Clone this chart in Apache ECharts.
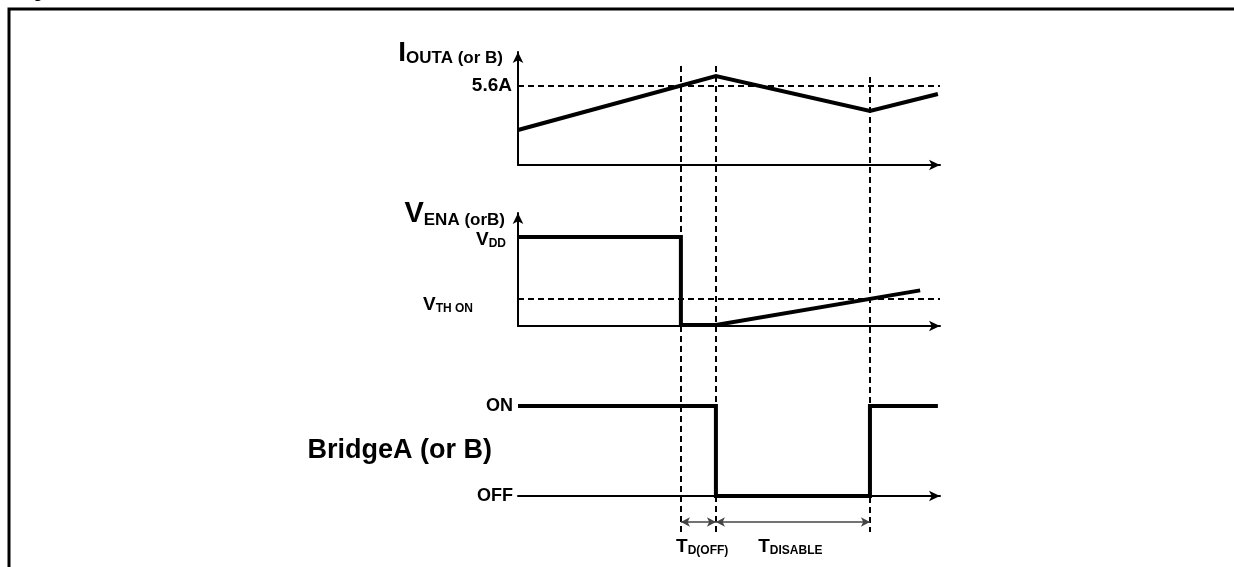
<!DOCTYPE html>
<html>
<head>
<meta charset="utf-8">
<script src="https://cdn.jsdelivr.net/npm/echarts@6/dist/echarts.min.js"></script>
<style>html,body{margin:0;padding:0;background:#fff}#c{width:1234px;height:567px}</style>
</head>
<body>
<div id="c"></div>
<script>
// ---- data (time axis in arbitrary units) ----
const eventTimes = [38.6, 46.9, 83.4];            // T_D(OFF) start, bridge off, T_DISABLE end
const currentWave = [[0, 2.48], [46.9, 6.3], [83.4, 3.82], [99.5, 5.03]];
const currentLimit = 5.6;                          // 5.6A threshold
const enableWave = [[0, 5], [38.6, 5], [38.6, 0.06], [46.9, 0.06], [95.3, 2.0]];
const vddLevel = 5;
const vthOnLevel = 1.52;
const bridgeWave = [[0, 1], [46.9, 1], [46.9, 0], [83.4, 0], [83.4, 1], [99.5, 1]];
const levelLabelsCurrent = ['5.6A'];
const bridgeStates = ['OFF', 'ON'];
const intervalNames = ['D(OFF)', 'DISABLE'];
const guideTops = [98.8, 98.8, 96.6];              // top of the vertical guide lines (overlay units)

const FONT = "'Liberation Sans', Arial, Helvetica, sans-serif";
const BLACK = '#000';
const thick = { color: BLACK, width: 4, cap: 'butt', join: 'miter' };
const dashed = { color: BLACK, width: 2, type: [6, 4] };
const richSub = (big, small) => ({
  b: { fontSize: big, fontWeight: 'bold', fontFamily: FONT, color: BLACK, verticalAlign: 'bottom', lineHeight: big + 4 },
  s: { fontSize: small, fontWeight: 'bold', fontFamily: FONT, color: BLACK, verticalAlign: 'bottom', lineHeight: big + 4 }
});
const richPlain = (size) => ({ t: { fontSize: size, fontWeight: 'bold', fontFamily: FONT, color: BLACK } });

const gridLeft = 518, gridWidth = 422, xMax = 100;
const xAxisBase = (gi) => ({
  type: 'value', gridIndex: gi, min: 0, max: xMax,
  axisLine: { show: true, symbol: ['none', 'arrow'], symbolSize: [8, 11], lineStyle: { color: BLACK, width: 2 } },
  axisTick: { show: false }, axisLabel: { show: false }, splitLine: { show: false }
});
const yAxisBase = (gi, max, showLine) => ({
  type: 'value', gridIndex: gi, min: 0, max: max,
  axisLine: { show: showLine, onZero: false, symbol: ['none', 'arrow'], symbolSize: [8, 11], lineStyle: { color: BLACK, width: 2 } },
  axisTick: { show: false }, axisLabel: { show: false }, splitLine: { show: false }
});

const lbl = (extra) => Object.assign({ show: true, position: 'left', color: BLACK, opacity: 1, fontWeight: 'bold', fontFamily: FONT, fontSize: 18, textBorderWidth: 0 }, extra);
const plain = (text, size, distance) => lbl({ formatter: '{t|' + text + '}', rich: richPlain(size), distance: distance });
const labelHolder = { symbolSize: 0, clip: false, itemStyle: { opacity: 1 }, emphasis: { disabled: true }, silent: true };

const option = {
  animation: false,
  backgroundColor: '#fff',
  grid: [
    { left: gridLeft, width: gridWidth, top: 52, height: 113 },
    { left: gridLeft, width: gridWidth, top: 213, height: 113 },
    { left: gridLeft, width: gridWidth, top: 406, height: 90 },
    { left: gridLeft, width: gridWidth, top: 60, height: 500 }
  ],
  xAxis: [xAxisBase(0), xAxisBase(1), xAxisBase(2), Object.assign(xAxisBase(3), { show: false })],
  yAxis: [
    yAxisBase(0, 8, true),
    yAxisBase(1, 6.345, true),
    Object.assign(yAxisBase(2, 1, false), { show: false }),
    Object.assign(yAxisBase(3, 100, false), { show: false })
  ],
  graphic: [
    { type: 'polyline', shape: { points: [[9, 567], [9, 9], [1234, 9]] }, style: { stroke: BLACK, lineWidth: 3, fill: null } },
    { type: 'text', left: 19, top: -14, style: { text: 'Fig', font: 'bold 16px ' + FONT, fill: BLACK } }
  ],
  series: [
    {
      type: 'line', xAxisIndex: 0, yAxisIndex: 0, data: currentWave, symbol: 'none', lineStyle: thick,
      markLine: { silent: true, symbol: 'none', label: { show: false }, lineStyle: dashed, data: [{ yAxis: currentLimit }] }
    },
    Object.assign({
      type: 'scatter', xAxisIndex: 0, yAxisIndex: 0, label: lbl({}),
      data: [
        { value: [0, currentLimit], label: plain(levelLabelsCurrent[0], 19, 6) },
        { value: [0, 8], label: lbl({ formatter: '{b|I}{s|OUTA (or B)}', distance: 15, offset: [0, -1], rich: richSub(28, 17) }) }
      ]
    }, labelHolder),
    {
      type: 'line', xAxisIndex: 1, yAxisIndex: 1, data: enableWave, symbol: 'none', lineStyle: thick,
      markLine: { silent: true, symbol: 'none', label: { show: false }, lineStyle: dashed, data: [{ yAxis: vthOnLevel }] }
    },
    Object.assign({
      type: 'scatter', xAxisIndex: 1, yAxisIndex: 1, label: lbl({}),
      data: [
        { value: [0, vddLevel], label: lbl({ formatter: '{b|V}{s|DD}', distance: 12, offset: [0, 1], rich: richSub(19, 12) }) },
        { value: [0, vthOnLevel], label: lbl({ formatter: '{b|V}{s|TH ON}', distance: 45, offset: [0, 4], rich: richSub(19, 12) }) },
        { value: [0, 6.345], label: lbl({ formatter: '{b|V}{s|ENA (orB)}', distance: 13, offset: [0, -1], rich: richSub(29, 17) }) }
      ]
    }, labelHolder),
    {
      type: 'line', xAxisIndex: 2, yAxisIndex: 2, data: bridgeWave, symbol: 'none', lineStyle: thick
    },
    Object.assign({
      type: 'scatter', xAxisIndex: 2, yAxisIndex: 2, label: lbl({}),
      data: [
        { value: [0, 1], label: plain(bridgeStates[1], 18, 5) },
        { value: [0, 0], label: plain(bridgeStates[0], 18, 5) },
        { value: [0, 0.5], label: plain('BridgeA (or B)', 27, 26) }
      ]
    }, labelHolder),
    Object.assign({
      type: 'scatter', xAxisIndex: 3, yAxisIndex: 3,
      label: { show: true, position: 'inside', color: BLACK, opacity: 1 },
      data: [
        { value: [(eventTimes[0] + eventTimes[1]) / 2 + 0.9, 3], label: { formatter: '{b|T}{s|' + intervalNames[0] + '}', rich: richSub(19, 12) } },
        { value: [(eventTimes[1] + eventTimes[2]) / 2 - 0.6, 3], label: { formatter: '{b|T}{s|' + intervalNames[1] + '}', rich: richSub(19, 12) } }
      ],
      markLine: {
        silent: true, symbol: 'none', label: { show: false }, lineStyle: dashed,
        data: eventTimes.map((t, i) => [{ coord: [t, guideTops[i]] }, { coord: [t, 5.6] }])
      }
    }, labelHolder),
    {
      type: 'line', xAxisIndex: 3, yAxisIndex: 3, data: [], symbol: 'none',
      markLine: {
        silent: true, symbol: ['arrow', 'arrow'], symbolSize: [7, 9], label: { show: false },
        lineStyle: { color: '#444', width: 1.5, type: 'solid' },
        data: [
          [{ coord: [eventTimes[0], 7.6] }, { coord: [eventTimes[1], 7.6] }],
          [{ coord: [eventTimes[1], 7.6] }, { coord: [eventTimes[2], 7.6] }]
        ]
      }
    }
  ]
};
const chart = echarts.init(document.getElementById('c'), null, { renderer: 'canvas' });
chart.setOption(option);
</script>
</body>
</html>
